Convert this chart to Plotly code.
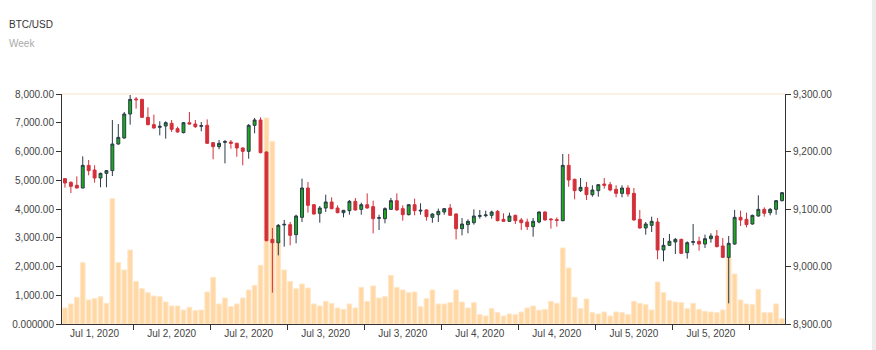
import plotly.graph_objects as go

# Hourly BTC/USD candles (price) and traded volume
opens = [9152.8, 9146.4, 9141.2, 9136.5, 9175.9, 9167.8, 9153.9, 9162.0, 9166.7, 9213.0,
         9223.5, 9265.2, 9291.3, 9290.7, 9259.4, 9246.7, 9242.0, 9244.3, 9249.0, 9239.7,
         9232.8, 9250.1, 9247.8, 9243.8, 9245.5, 9215.4, 9208.4, 9215.9, 9216.5, 9214.2,
         9206.1, 9200.3, 9245.5, 9254.8, 9199.1, 9047.2, 9041.4, 9072.2, 9072.8, 9055.4,
         9085.5, 9136.5, 9107.5, 9092.5, 9101.7, 9112.2, 9101.7, 9093.6, 9097.1, 9113.3,
         9099.4, 9107.5, 9104.1, 9083.8, 9083.2, 9099.4, 9114.5, 9100.6, 9090.1, 9107.5,
         9096.5, 9098.3, 9085.5, 9090.1, 9094.8, 9101.7, 9091.3, 9065.8, 9072.8, 9076.2,
         9087.2, 9088.4, 9089.0, 9095.9, 9082.0, 9078.6, 9089.0, 9080.9, 9077.4, 9069.3,
         9077.4, 9094.8, 9082.6, 9081.4, 9079.7, 9175.9, 9151.6, 9131.9, 9137.7, 9124.9,
         9131.9, 9143.5, 9142.3, 9134.2, 9127.2, 9136.5, 9127.2, 9082.0, 9067.0, 9071.6,
         9077.4, 9028.7, 9036.8, 9042.6, 9047.2, 9024.1, 9042.0, 9043.8, 9039.1, 9048.4,
         9053.0, 9035.7, 9015.9, 9039.1, 9085.5, 9082.0, 9073.9, 9087.8, 9099.4, 9093.6,
         9099.4, 9114.5]
highs = [9153.9, 9148.1, 9156.8, 9191.6, 9185.2, 9175.9, 9163.2, 9167.8, 9254.8, 9247.8,
         9268.7, 9299.5, 9294.8, 9291.5, 9276.8, 9264.1, 9252.5, 9252.5, 9254.8, 9243.2,
         9251.3, 9268.7, 9254.8, 9251.3, 9255.9, 9216.5, 9220.0, 9220.0, 9220.0, 9215.4,
         9207.2, 9247.8, 9258.3, 9259.4, 9200.3, 9067.0, 9073.9, 9080.9, 9077.4, 9090.1,
         9152.8, 9147.0, 9108.7, 9105.2, 9124.9, 9120.3, 9106.4, 9098.3, 9115.7, 9119.1,
         9111.0, 9127.2, 9114.5, 9090.1, 9102.9, 9119.1, 9127.2, 9106.4, 9108.7, 9118.0,
         9109.9, 9099.4, 9092.5, 9100.6, 9101.7, 9108.7, 9092.5, 9084.3, 9082.0, 9099.4,
         9098.3, 9097.1, 9097.1, 9098.3, 9092.5, 9093.6, 9090.1, 9084.3, 9083.2, 9084.3,
         9095.9, 9095.9, 9084.3, 9085.5, 9195.7, 9195.7, 9152.8, 9153.9, 9147.0, 9141.2,
         9143.5, 9153.9, 9147.0, 9141.2, 9141.2, 9141.2, 9136.5, 9098.3, 9077.4, 9086.7,
         9084.3, 9049.6, 9056.5, 9049.6, 9048.4, 9043.8, 9073.9, 9051.9, 9055.4, 9057.7,
         9063.5, 9049.6, 9053.0, 9098.3, 9097.1, 9093.6, 9090.1, 9123.8, 9102.9, 9101.7,
         9115.7, 9129.6]
lows = [9137.1, 9127.8, 9136.0, 9136.0, 9158.6, 9145.8, 9137.7, 9137.7, 9157.4, 9211.9,
        9222.3, 9246.7, 9274.5, 9258.3, 9245.5, 9239.7, 9228.1, 9222.3, 9233.9, 9232.8,
        9231.6, 9246.7, 9240.9, 9235.1, 9213.0, 9186.4, 9203.8, 9179.4, 9204.9, 9191.0,
        9176.0, 9187.5, 9231.6, 9196.8, 9043.8, 8954.5, 9019.4, 9034.5, 9036.8, 9040.3,
        9077.4, 9093.6, 9090.1, 9076.2, 9094.8, 9099.4, 9092.5, 9085.5, 9090.1, 9097.1,
        9090.1, 9100.6, 9057.7, 9063.5, 9075.1, 9098.3, 9097.1, 9079.7, 9089.0, 9089.0,
        9090.1, 9079.7, 9076.2, 9077.4, 9090.1, 9087.8, 9047.2, 9054.2, 9057.7, 9072.8,
        9083.2, 9085.5, 9083.2, 9078.6, 9078.0, 9077.4, 9073.9, 9063.5, 9063.5, 9051.9,
        9075.1, 9079.7, 9065.8, 9069.3, 9078.6, 9138.8, 9116.8, 9129.6, 9115.7, 9121.4,
        9121.4, 9135.4, 9130.7, 9120.3, 9120.3, 9121.4, 9079.7, 9065.8, 9055.4, 9060.0,
        9012.5, 9009.0, 9035.7, 9021.7, 9021.7, 9013.6, 9036.8, 9027.5, 9032.2, 9041.4,
        9033.3, 9014.8, 8935.9, 9038.0, 9070.4, 9068.1, 9072.8, 9086.7, 9086.7, 9089.0,
        9090.1, 9113.3]
closes = [9145.2, 9139.4, 9136.5, 9175.9, 9166.7, 9153.9, 9162.0, 9166.7, 9213.0, 9224.6,
          9265.2, 9290.7, 9290.1, 9259.4, 9246.7, 9240.9, 9243.8, 9250.1, 9238.6, 9233.9,
          9250.1, 9247.8, 9243.2, 9244.9, 9214.2, 9208.4, 9214.2, 9217.1, 9214.2, 9206.1,
          9200.3, 9245.5, 9254.8, 9198.0, 9044.9, 9041.4, 9071.6, 9073.3, 9054.2, 9087.8,
          9136.5, 9106.4, 9091.3, 9101.7, 9112.2, 9100.6, 9093.6, 9097.7, 9113.3, 9098.3,
          9107.5, 9101.7, 9083.2, 9084.9, 9100.6, 9114.5, 9098.3, 9090.1, 9107.5, 9097.1,
          9097.7, 9086.7, 9091.3, 9095.9, 9100.6, 9089.0, 9065.8, 9073.9, 9078.6, 9087.8,
          9088.4, 9089.6, 9094.8, 9079.7, 9078.6, 9087.8, 9079.7, 9076.2, 9069.3, 9078.6,
          9094.8, 9080.9, 9081.4, 9080.3, 9175.9, 9150.4, 9131.9, 9137.7, 9124.9, 9133.0,
          9142.3, 9141.2, 9133.0, 9127.2, 9136.5, 9126.1, 9080.9, 9067.0, 9073.9, 9078.6,
          9028.7, 9036.8, 9043.8, 9047.2, 9022.9, 9041.4, 9043.2, 9039.1, 9048.4, 9053.0,
          9034.5, 9015.9, 9040.3, 9085.5, 9080.9, 9072.8, 9089.0, 9099.4, 9092.5, 9099.4,
          9114.5, 9128.4]
volumes = [556, 696, 928, 2133, 835, 881, 951, 719, 4359, 2133,
           1878, 2574, 1484, 1229, 1090, 974, 951, 765, 626, 626,
           487, 580, 464, 487, 1113, 1623, 696, 904, 603, 696,
           904, 1183, 1345, 2040, 7165, 6354, 2900, 1878, 1484, 1229,
           1391, 1252, 696, 626, 788, 719, 557, 510, 696, 557,
           1275, 788, 1322, 904, 951, 1693, 1275, 1183, 1090, 1113,
           603, 881, 1183, 696, 696, 742, 1183, 765, 557, 742,
           325, 278, 533, 394, 278, 348, 325, 417, 557, 626,
           480, 510, 788, 719, 2643, 1948, 928, 533, 870, 394,
           348, 417, 278, 417, 394, 325, 788, 719, 672, 487,
           1461, 1090, 812, 765, 742, 533, 719, 510, 441, 417,
           394, 487, 2319, 1739, 835, 696, 672, 1206, 394, 394,
           696, 186]

# One date label per block of 13 candles
date_labels = ["Jul 1, 2020", "Jul 2, 2020", "Jul 2, 2020", "Jul 3, 2020", "Jul 3, 2020",
               "Jul 4, 2020", "Jul 4, 2020", "Jul 5, 2020", "Jul 5, 2020"]
volume_ticks = [0, 1000, 2000, 3000, 4000, 5000, 6000, 7000, 8000]
volume_ticktext = ["0.000000", "1,000.00", "2,000.00", "3,000.00", "4,000.00",
                   "5,000.00", "6,000.00", "7,000.00", "8,000.00"]
price_ticks = [8900, 9000, 9100, 9200, 9300]

n = len(closes)
idx = list(range(n))
block = 13
first_boundary = 11.5
boundaries = [first_boundary + block * k for k in range(len(date_labels))]
label_pos = [b - block / 2 for b in boundaries]

FONT = "Liberation Sans, Arial, sans-serif"
AXIS = "#333333"

fig = go.Figure()

fig.add_trace(go.Bar(
    x=idx, y=volumes, yaxis="y",
    marker=dict(color="#ffd8a6", line=dict(color="#ffe6c6", width=1)),
    hoverinfo="skip", showlegend=False,
))

fig.add_trace(go.Candlestick(
    x=idx, open=opens, high=highs, low=lows, close=closes, yaxis="y2",
    increasing=dict(line=dict(color="#2b3a4a", width=1), fillcolor="#1aad1a"),
    decreasing=dict(line=dict(color="#d3303a", width=1), fillcolor="#d3303a"),
    whiskerwidth=0, hoverinfo="skip", showlegend=False,
))

fig.update_layout(
    width=876, height=350,
    margin=dict(l=62, r=91, t=94, b=26),
    paper_bgcolor="white", plot_bgcolor="white",
    font=dict(family=FONT, size=10, color=AXIS),
    bargap=0.22,
    hovermode=False,
    xaxis=dict(
        range=[-0.5, n - 0.5], showgrid=False, zeroline=False,
        showline=True, linecolor=AXIS, linewidth=1,
        tickmode="array", tickvals=label_pos, ticktext=date_labels,
        ticks="", tickfont=dict(size=10, color="#444"),
        minor=dict(tickmode="array", tickvals=boundaries, ticks="outside",
                   ticklen=5, tickwidth=1, tickcolor=AXIS, showgrid=False),
        rangeslider=dict(visible=False), fixedrange=True,
    ),
    yaxis=dict(
        range=[0, 8000], showgrid=False, zeroline=False,
        showline=True, linecolor=AXIS, linewidth=1,
        tickmode="array", tickvals=volume_ticks, ticktext=volume_ticktext,
        ticks="outside", ticklen=5, tickcolor=AXIS,
        tickfont=dict(size=10, color="#444"), fixedrange=True,
    ),
    yaxis2=dict(
        range=[8900, 9300], overlaying="y", side="right",
        showgrid=False, zeroline=False,
        showline=True, linecolor=AXIS, linewidth=1,
        tickmode="array", tickvals=price_ticks, tickformat=",.2f",
        ticks="outside", ticklen=5, tickcolor=AXIS,
        tickfont=dict(size=10, color="#444"), fixedrange=True,
    ),
    shapes=[
        # faint top border of the plotting area
        dict(type="line", xref="paper", yref="paper", x0=0, x1=1, y0=1, y1=1,
             line=dict(color="#fcefe4", width=2)),
        # thin grey strip along the right edge of the page
        dict(type="rect", xref="paper", yref="paper",
             x0=(872 - 62) / 723, x1=(877 - 62) / 723, y0=-0.2, y1=1.5,
             fillcolor="#ececec", line=dict(width=0), layer="above"),
    ],
    annotations=[
        dict(text="BTC/USD", xref="paper", yref="paper",
             x=(7 - 62) / 723, y=(324 - 24) / 230, xanchor="left", yanchor="middle",
             showarrow=False, font=dict(size=10, color="#333")),
        dict(text="Week", xref="paper", yref="paper",
             x=(7 - 62) / 723, y=(324 - 44) / 230, xanchor="left", yanchor="middle",
             showarrow=False, font=dict(size=10, color="#aaaaaa")),
    ],
)

fig.write_html("out.html")
